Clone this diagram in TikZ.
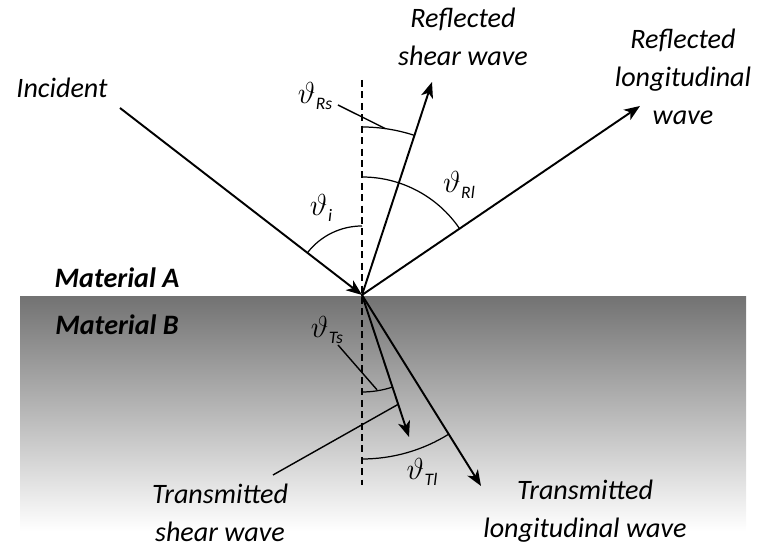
\documentclass[tikz,border=0pt]{standalone}
\usepackage{fontspec}
\setmainfont{Carlito}
\usetikzlibrary{arrows.meta,calc}
\newcommand\angsym[1]{$\vartheta$\kern0.3pt\raisebox{-0.45ex}{\fontsize{10}{12}\selectfont\itshape #1}}
\begin{document}
\begin{tikzpicture}[x=0.02cm,y=0.02cm,
  wave/.style={line width=1.1pt,-{Stealth[length=9pt,width=7pt,inset=2.5pt]}},
  anglearc/.style={line width=0.7pt},
  leader/.style={line width=0.8pt},
  normal/.style={line width=0.8pt,dash pattern=on 4pt off 2.5pt},
  lbl/.style={align=center,font=\fontsize{16}{21.5}\selectfont\itshape},
  mat/.style={font=\fontsize{16}{21.5}\selectfont\bfseries\itshape},
  ang/.style={font=\fontsize{18}{20}\selectfont}]
\useasboundingbox (0,0) rectangle (762,553);
% material B
\shade[top color=black!55,bottom color=white] (20,22) rectangle (746,256);
% points
\coordinate (O) at (362,258);
\coordinate (inc) at (120,445);
\coordinate (rs) at (432,471);
\coordinate (rl) at (640,447);
\coordinate (ts) at (409,116);
\coordinate (tl) at (481,67);
\coordinate (ntop) at (362,473);
\coordinate (nbot) at (362,68);
\draw[normal] (ntop) -- (nbot);
% waves
\draw[wave] (inc) -- (O);
\draw[wave] (O) -- (rs);
\draw[wave] (O) -- (rl);
\draw[wave] (O) -- (ts);
\draw[wave] (O) -- (tl);
% angles
\draw[anglearc] ($(O)+(90:69)$) arc[start angle=90,end angle=142.3,radius=69];
\draw[anglearc] ($(O)+(90:118)$) arc[start angle=90,end angle=34.2,radius=118];
\draw[anglearc] ($(O)+(90:168)$) arc[start angle=90,end angle=71.8,radius=168];
\draw[anglearc] ($(O)+(270:97)$) arc[start angle=270,end angle=288.3,radius=97];
\draw[anglearc] ($(O)+(270:164)$) arc[start angle=270,end angle=301.9,radius=164];
\node[ang] (ai) at (321,345) {\angsym{i}};
\node[ang] (arl) at (459,368) {\angsym{Rl}};
\node[ang] (ars) at (315,457) {\angsym{Rs}};
\node[ang] (ats) at (327,223) {\angsym{Ts}};
\node[ang] (atl) at (422,81) {\angsym{Tl}};
% leaders
\coordinate (rsfrom) at (338,448);
\coordinate (rsarc) at ($(O)+(82:168)$);
\coordinate (tsfrom) at (338,208);
\coordinate (tsarc) at ($(O)+(279:96)$);
\coordinate (tslfrom) at (273,78);
\coordinate (tsline) at ($(O)!0.77!(ts)$);
\draw[leader] (rsfrom) -- (rsarc);
\draw[leader] (tsfrom) -- (tsarc);
\draw[leader] (tslfrom) -- (tsline);
% labels
\node[lbl] (incl) at (62,465) {Incident};
\node[lbl] (rsl) at (463,516) {Reflected\\shear wave};
\node[lbl] (rll) at (683,476) {Reflected\\longitudinal\\wave};
\node[mat] (mA) at (117,275) {Material A};
\node[mat] (mB) at (117,228) {Material B};
\node[lbl] (tsl) at (220,40) {Transmitted\\shear wave};
\node[lbl] (tll) at (585,42) {Transmitted\\longitudinal wave};
\end{tikzpicture}
\end{document}
